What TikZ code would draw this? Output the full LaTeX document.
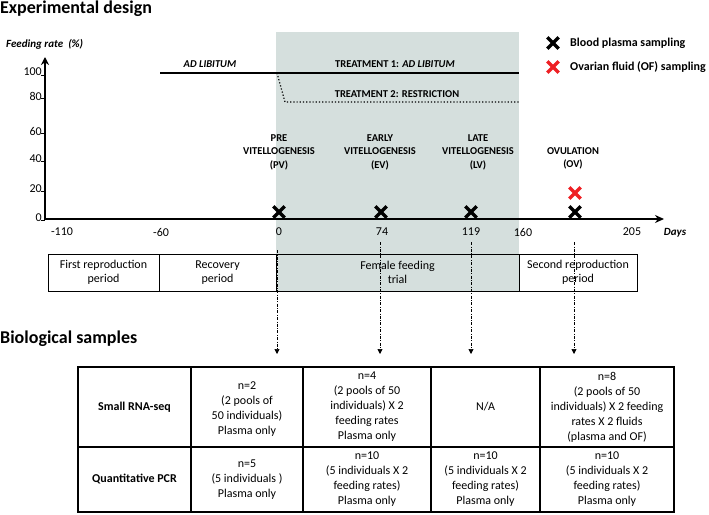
\documentclass[tikz,border=0pt]{standalone}
\usepackage{fontspec}
\setmainfont{Carlito}
\usetikzlibrary{arrows.meta,positioning,calc,shapes.misc}
\definecolor{trialgray}{RGB}{213,223,221}
\definecolor{ofred}{RGB}{238,32,36}

\begin{document}
\begin{tikzpicture}[x=1pt,y=-1pt,
    head/.style={font=\bfseries\fontsize{18}{21}\selectfont, inner sep=0pt, anchor=base west},
    tick/.style={font=\fontsize{12}{14}\selectfont, inner sep=0pt},
    stage/.style={font=\bfseries\fontsize{10.5}{13.5}\selectfont, align=center, inner sep=0pt},
    period/.style={draw, line width=0.8pt, align=center, font=\fontsize{12}{14}\selectfont, inner sep=0pt, minimum height=37pt},
    cell/.style={align=center, font=\fontsize{12}{15}\selectfont, inner sep=0pt},
    rowhead/.style={font=\bfseries\fontsize{12}{15}\selectfont, inner sep=0pt},
    sampx/.style={cross out, draw, line width=3.4pt, minimum size=8pt, inner sep=0pt},
    drop/.style={-{Triangle[length=5pt,width=5pt]}, line width=0.7pt, dash pattern=on 3pt off 1.5pt on 0.7pt off 1.5pt}]
    \useasboundingbox (0,0) rectangle (709,514);
    % Feeding trial window
    \fill[trialgray] (276,32) rectangle (519,291);
    \node[head] (design) at (0,13) {Experimental design};
    % Axes
    \draw[line width=1.8pt, -{Stealth[length=8pt,width=8pt]}] (45,220) -- (45,57);
    \draw[line width=1.8pt, -{Stealth[length=9pt,width=8pt]}] (44,219) -- (664,219);
    \node[font=\bfseries\itshape\fontsize{11}{13}\selectfont, anchor=base west, inner sep=0pt] (rate) at (6,47) {Feeding rate~~(\%)};
    \node[font=\bfseries\itshape\fontsize{11}{13}\selectfont, inner sep=0pt] (days) at (675,233) {Days};
    % y ticks
    \draw[line width=0.6pt] (41,75) -- (45,75) (41,98) -- (45,98) (41,133) -- (45,133)
        (41,161) -- (45,161) (41,191) -- (45,191) (41,220) -- (45,220);
    \node[tick, anchor=east] (y100) at (42,72) {100};
    \node[tick, anchor=east] (y80) at (42,96) {80};
    \node[tick, anchor=east] (y60) at (42,131) {60};
    \node[tick, anchor=east] (y40) at (42,159) {40};
    \node[tick, anchor=east] (y20) at (42,189) {20};
    \node[tick, anchor=east] (y0) at (42,218) {0};
    % x ticks
    \node[tick] (xm110) at (62,232) {-110};
    \node[tick] (xm60) at (161,232) {-60};
    \node[tick] (x0) at (279,232) {0};
    \node[tick] (x74) at (382,232) {74};
    \node[tick] (x119) at (471,232) {119};
    \node[tick] (x160) at (523,232) {160};
    \node[tick] (x205) at (632,232) {205};
    % Feeding levels
    \draw[line width=1.2pt] (160,73) -- (519,73);
    \draw[line width=1.2pt, dotted] (277,73) -- (285,102) -- (519,102);
    \node[stage, font=\bfseries\itshape\fontsize{10.5}{13.5}\selectfont] (adlib) at (210,64) {AD LIBITUM};
    \node[stage] (treat1) at (395,64) {TREATMENT 1: \textit{AD LIBITUM}};
    \node[stage] (treat2) at (397,94) {TREATMENT 2: RESTRICTION};
    % Stages
    \node[stage] (pvlbl) at (279,152) {PRE\\VITELLOGENESIS\\(PV)};
    \node[stage] (evlbl) at (380,152) {EARLY\\VITELLOGENESIS\\(EV)};
    \node[stage] (lvlbl) at (478,152) {LATE\\VITELLOGENESIS\\(LV)};
    \node[stage] (ovlbl) at (573,158.5) {OVULATION\\(OV)};
    % Samplings
    \node[sampx] (pv) at (279,212) {};
    \node[sampx] (ev) at (381,212) {};
    \node[sampx] (lv) at (471,212) {};
    \node[sampx] (ov) at (575,212) {};
    \node[sampx, ofred] (ovof) at (575,193) {};
    % Legend
    \node[sampx] (keyplasma) at (553,43) {};
    \node[sampx, ofred] (keyof) at (553,67) {};
    \node[font=\bfseries\fontsize{12}{14}\selectfont, anchor=west, inner sep=0pt] (plasmatxt) at (570,43) {Blood plasma sampling};
    \node[font=\bfseries\fontsize{12}{14}\selectfont, anchor=west, inner sep=0pt] (oftxt) at (570,67) {Ovarian fluid (OF) sampling};
    % Periods
    \node[period, minimum width=111pt] (first) at (103.5,272.5) {First reproduction\\period};
    \node[period, minimum width=117pt] (recov) at (217.5,272.5) {Recovery\\period};
    \node[period, minimum width=243pt] (trial) at (397.5,272.5) {Female feeding\\trial};
    \node[period, minimum width=118pt] (second) at (578,272.5) {Second reproduction\\period};
    % Links to samples
    \coordinate (pvtop) at (277,250);
    \coordinate (evtop) at (380,242);
    \coordinate (lvtop) at (471,242);
    \coordinate (ovtop) at (574,242);
    \coordinate (pvend) at (277,354);
    \coordinate (evend) at (380,354);
    \coordinate (lvend) at (471,354);
    \coordinate (ovend) at (574,354);
    \draw[drop] (pvtop) -- (pvend);
    \draw[drop] (evtop) -- (evend);
    \draw[drop] (lvtop) -- (lvend);
    \draw[drop] (ovtop) -- (ovend);
    % Biological samples
    \node[head] (samples) at (0,343) {Biological samples};
    \draw[line width=1.2pt] (78,367) rectangle (674,512);
    \draw[line width=1.2pt] (78,447) -- (674,447)
        (191,367) -- (191,512) (303,367) -- (303,512) (431,367) -- (431,512) (540,367) -- (540,512);
    \node[rowhead] (rnaseq) at (134.5,407) {Small RNA-seq};
    \node[rowhead] (qpcr) at (134.5,479.5) {Quantitative PCR};
    \node[cell] (rnapv) at (247,409.5) {n=2\\(2 pools of\\50 individuals)\\Plasma only};
    \node[cell] (rnaev) at (367,407) {n=4\\(2 pools of 50\\individuals) X 2\\feeding rates\\Plasma only};
    \node[cell] (rnalv) at (485.5,407) {N/A};
    \node[cell] (rnaov) at (607,407) {n=8\\(2 pools of 50\\individuals) X 2 feeding\\rates X 2 fluids\\(plasma and OF)};
    \node[cell] (qpcrpv) at (247,479.5) {n=5\\(5 individuals )\\Plasma only};
    \node[cell] (qpcrev) at (367,479.5) {n=10\\(5 individuals X 2\\feeding rates)\\Plasma only};
    \node[cell] (qpcrlv) at (485.5,479.5) {n=10\\(5 individuals X 2\\feeding rates)\\Plasma only};
    \node[cell] (qpcrov) at (607,479.5) {n=10\\(5 individuals X 2\\feeding rates)\\Plasma only};
\end{tikzpicture}
\end{document}
